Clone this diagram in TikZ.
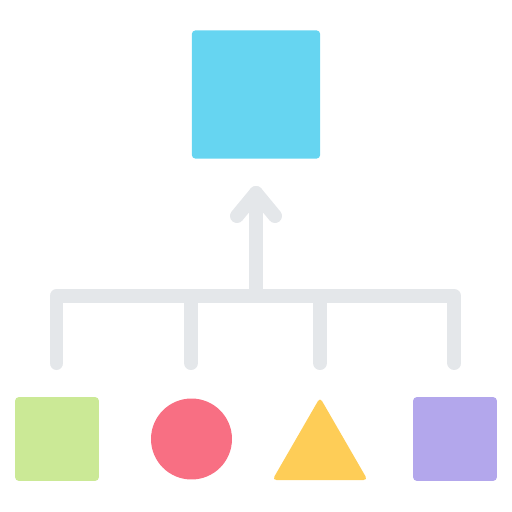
\documentclass[tikz,border=0pt]{standalone}
\usetikzlibrary{shapes.geometric}

\definecolor{topblue}{HTML}{66D5F1}
\definecolor{leafgreen}{HTML}{CBE996}
\definecolor{leafred}{HTML}{F86F83}
\definecolor{leafyellow}{HTML}{FECD57}
\definecolor{leafpurple}{HTML}{B3A7EC}
\definecolor{wiregray}{HTML}{E4E7EA}

\begin{document}
\begin{tikzpicture}[x=0.02cm, y=-0.02cm,
        every node/.style={inner sep=0pt, outer sep=0pt},
        box/.style={rectangle, rounded corners=0.08cm},
        wire/.style={line width=0.28cm, wiregray, line cap=round, line join=round}]
            \useasboundingbox (0,0) rectangle (512,512);

            % top box
            \node[box, fill=topblue, minimum size=2.57cm] (top) at (256,94.5) {};

            % leaves
            \node[box, fill=leafgreen, minimum size=1.68cm] (sq1) at (57,439) {};
            \node[circle, fill=leafred, minimum size=1.62cm] (circ) at (191.5,439) {};
            \node[regular polygon, regular polygon sides=3, fill=leafyellow,
                  rounded corners=0.08cm, minimum size=2.2cm] (tri) at (320,452.5) {};
            \node[box, fill=leafpurple, minimum size=1.68cm] (sq2) at (455,439) {};

            % bus and drops
            \coordinate (busL) at (56.5,296);
            \coordinate (busR) at (454.5,296);
            \coordinate (d1) at (56.5,363);
            \coordinate (d2) at (191,363);
            \coordinate (d3) at (320,363);
            \coordinate (d4) at (454.5,363);
            \draw[wire] (d1) -- (busL) -- (busR) -- (d4);
            \foreach \i in {2,3}
                \draw[wire] (d\i) -- (d\i |- busL);

            % arrow up to the top box
            \coordinate (tip) at (256,193);
            \coordinate (armL) at (237,216);
            \coordinate (armR) at (275,216);
            \draw[wire] (tip |- busL) -- (tip);
            \draw[wire] (armL) -- (tip) -- (armR);
        \end{tikzpicture}
\end{document}
